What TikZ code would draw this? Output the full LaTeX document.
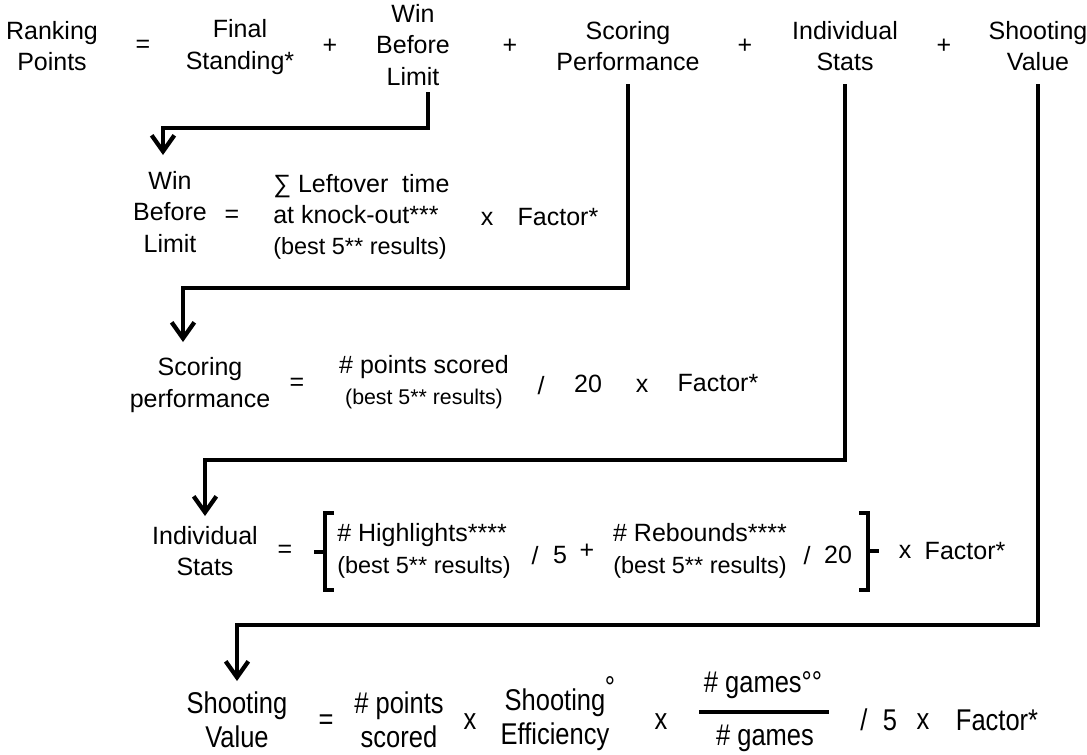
\documentclass[tikz,border=0pt]{standalone}
\usepackage{fontspec}
\setmainfont{Liberation Sans}
\newfontfamily\narrowfont[FakeStretch=0.85]{Liberation Sans}
\usetikzlibrary{arrows.meta}

\newcommand{\bigsz}{\fontsize{18.75}{23.5}\selectfont}
\newcommand{\smsz}{\fontsize{17.6}{20}\selectfont}
\newcommand{\tinysz}{\fontsize{16}{19}\selectfont}
\newcommand{\lowsz}{\narrowfont\fontsize{22.5}{25.5}\selectfont}
\newcommand{\best}{{\smsz (best 5** results)}}

\begin{document}
\begin{tikzpicture}[x=0.75pt,y=0.75pt,yscale=-1,xscale=1,
  txt/.style={inner sep=0pt, align=center, font=\bigsz},
  low/.style={inner sep=0pt, align=center, font=\lowsz},
  flow/.style={line width=3.2pt, -{Straight Barb[length=12pt,width=17pt]}},
  brk/.style={line width=2.4pt}]
\useasboundingbox (0,0) rectangle (1087,754);

% top line
\node[txt] (rp) at (52,46) {Ranking\\Points};
\node[txt] (eq0) at (143,46) {=};
\node[txt] (fs) at (240,47) {Final\\Standing*};
\node[txt] (p1) at (330,46) {+};
\node[txt] (wbl) at (413,45) {Win\\Before\\Limit};
\node[txt] (p2) at (510,46) {+};
\node[txt] (sp) at (628,46) {Scoring\\Performance};
\node[txt] (p3) at (745,46) {+};
\node[txt] (is) at (845,46) {Individual\\Stats};
\node[txt] (p4) at (944,46) {+};
\node[txt] (sv) at (1038,46) {Shooting\\Value};

% win before limit
\node[txt] (wbl2) at (170,212) {Win\\Before\\Limit};
\node[txt] (eq1) at (232,216) {=};
\node[txt, align=left, anchor=west] (lt) at (273,217) {∑ Leftover~~time\\at knock-out***\\\best};
\node[txt] (x1) at (487,219) {x};
\node[txt] (f1) at (558,217) {Factor*};

% scoring performance
\node[txt] (sp2) at (200,385) {Scoring\\performance};
\node[txt] (eq2) at (297,384) {=};
\node[txt] (ps) at (424,382) {\# points scored\\{\tinysz (best 5** results)}};
\node[txt] (d2) at (541,386) {/};
\node[txt] (n20) at (588,384) {20};
\node[txt] (x2) at (642,386) {x};
\node[txt] (f2) at (718,383) {Factor*};

% individual stats
\node[txt] (is2) at (205,551) {Individual\\Stats};
\node[txt] (eq3) at (285,551) {=};
\node[txt, align=left, anchor=west] (hl) at (337,551) {\# Highlights****\\\best};
\node[txt] (d3) at (535,556) {/};
\node[txt] (n5) at (560,555) {5};
\node[txt] (p5) at (587,551) {+};
\node[txt] (rb) at (700,551) {\# Rebounds****\\\best};
\node[txt] (d4) at (807,556) {/};
\node[txt] (n20b) at (838,555) {20};
\node[txt] (x3) at (905,552) {x};
\node[txt] (f3) at (965,551) {Factor*};
\draw[brk] (334,513) -- (325,513) -- (325,590) -- (334,590);
\draw[brk] (325,552) -- (314,552);
\draw[brk] (859,513) -- (868,513) -- (868,590) -- (859,590);
\draw[brk] (868,551) -- (879,551);

% shooting value
\node[low] (sv2) at (237,720) {Shooting\\Value};
\node[low] (eq4) at (326,722) {=};
\node[low] (pts) at (399,720) {\# points\\scored};
\node[low] (x4) at (470,722) {x};
\node[low] (se) at (555,720) {Shooting\\Efficiency};
\node[low] (deg) at (610,687) {°};
\node[low] (x5) at (661,722) {x};
\node[low] (gn) at (763,685) {\# games°°};
\node[low] (gd) at (765,738) {\# games};
\draw[line width=2.4pt] (699,712) -- (829,712);
\node[low] (d5) at (864,720) {/};
\node[low] (n5b) at (890,720) {5};
\node[low] (x6) at (923,722) {x};
\node[low] (f4) at (997,720) {Factor*};

% arrows
\coordinate (bendW) at (0,128);
\coordinate (tipW) at (163,155);
\coordinate (bendS) at (0,288);
\coordinate (tipS) at (183,342);
\coordinate (bendI) at (0,460);
\coordinate (tipI) at (205,516);
\coordinate (bendV) at (0,625);
\coordinate (tipV) at (237,681);
\draw[flow, shorten <=5pt] ([xshift=11.25pt]wbl.south) |- (tipW |- bendW) -- (tipW);
\draw[flow, shorten <=10pt] (sp.south) |- (tipS |- bendS) -- (tipS);
\draw[flow, shorten <=10pt] (is.south) |- (tipI |- bendI) -- (tipI);
\draw[flow, shorten <=10pt] (sv.south) |- (tipV |- bendV) -- (tipV);

\end{tikzpicture}
\end{document}
